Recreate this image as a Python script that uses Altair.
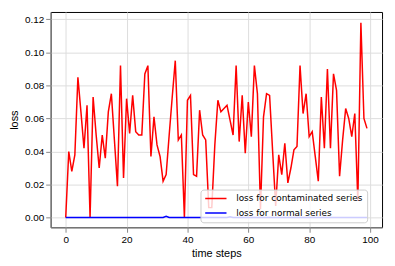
import altair as alt
import pandas as pd

steps = list(range(100))
contaminated = [
    0.0, 0.040, 0.028, 0.038, 0.085, 0.064, 0.042, 0.068, 0.0, 0.073,
    0.050, 0.030, 0.050, 0.036, 0.064, 0.075, 0.047, 0.019, 0.092, 0.024,
    0.072, 0.051, 0.074, 0.052, 0.050, 0.050, 0.087, 0.092, 0.037, 0.061,
    0.044, 0.037, 0.022, 0.026, 0.050, 0.073, 0.095, 0.047, 0.050, 0.0,
    0.071, 0.074, 0.026, 0.025, 0.065, 0.050, 0.047, 0.006, 0.006, 0.044,
    0.071, 0.064, 0.066, 0.068, 0.059, 0.050, 0.092, 0.046, 0.074, 0.039,
    0.070, 0.049, 0.092, 0.075, 0.005, 0.061, 0.075, 0.074, 0.040, 0.007,
    0.038, 0.026, 0.045, 0.021, 0.030, 0.041, 0.043, 0.092, 0.063, 0.075,
    0.049, 0.052, 0.037, 0.022, 0.073, 0.042, 0.090, 0.042, 0.087, 0.077,
    0.025, 0.047, 0.066, 0.060, 0.049, 0.063, 0.010, 0.118, 0.060, 0.054,
]
normal = [0.0] * 100
normal[33] = 0.0008
normal[54] = 0.0005

names = ["loss for contaminated series", "loss for normal series"]
colors = ["#ff0000", "#0000ff"]

df_c = pd.DataFrame({"t": steps, "loss": contaminated, "series": names[0]})
df_n = pd.DataFrame({"t": steps, "loss": normal, "series": names[1]})

font = "DejaVu Sans"

x_enc = alt.X("t:Q", scale=alt.Scale(domain=[-4.95, 103.95], nice=False, zero=False),
              axis=alt.Axis(title="time steps", values=[0, 20, 40, 60, 80, 100],
                            titlePadding=3, titleFontWeight="normal"))
y_enc = alt.Y("loss:Q", scale=alt.Scale(domain=[-0.0059, 0.1245], nice=False, zero=False),
              axis=alt.Axis(title="loss", values=[0, 0.02, 0.04, 0.06, 0.08, 0.10, 0.12],
                            format=".2f", titlePadding=5, titleFontWeight="normal"))
color_enc = alt.Color("series:N",
                      scale=alt.Scale(domain=names, range=colors),
                      legend=alt.Legend(title=None, orient="none", legendX=151, legendY=179,
                                        padding=4, fillColor="rgba(255,255,255,0.8)",
                                        strokeColor="#cccccc", cornerRadius=3,
                                        symbolType="stroke", symbolSize=460,
                                        symbolStrokeWidth=1.5, labelFont=font,
                                        labelFontSize=9, labelColor="#000000",
                                        clipHeight=10, rowPadding=4.5, labelOffset=9))

red = alt.Chart(df_c).mark_line(strokeWidth=1.5).encode(x=x_enc, y=y_enc, color=color_enc)
blue = alt.Chart(df_n).mark_line(strokeWidth=1.5).encode(x=x_enc, y=y_enc, color=color_enc)

chart = alt.layer(red, blue).properties(
    width=334, height=217,
    view=alt.ViewBackground(stroke="#000000", strokeWidth=1, strokeOpacity=1),
    autosize=alt.AutoSizeParams(type="none"),
    padding={"left": 43, "top": 3, "right": 5, "bottom": 35},
).configure_view(
    stroke="#000000", strokeWidth=1
).configure_axis(
    grid=False, domain=True, domainColor="#000000", domainWidth=1,
    labelFont=font, labelFontSize=9.5, labelColor="#000000",
    titleFont=font, titleFontSize=10, titleFontWeight="normal", titleColor="#000000",
    tickColor="#000000", tickSize=3.5, labelPadding=3.5,
).configure(background="white")

chart.save("out.html", embed_options={"renderer": "svg", "actions": False})
